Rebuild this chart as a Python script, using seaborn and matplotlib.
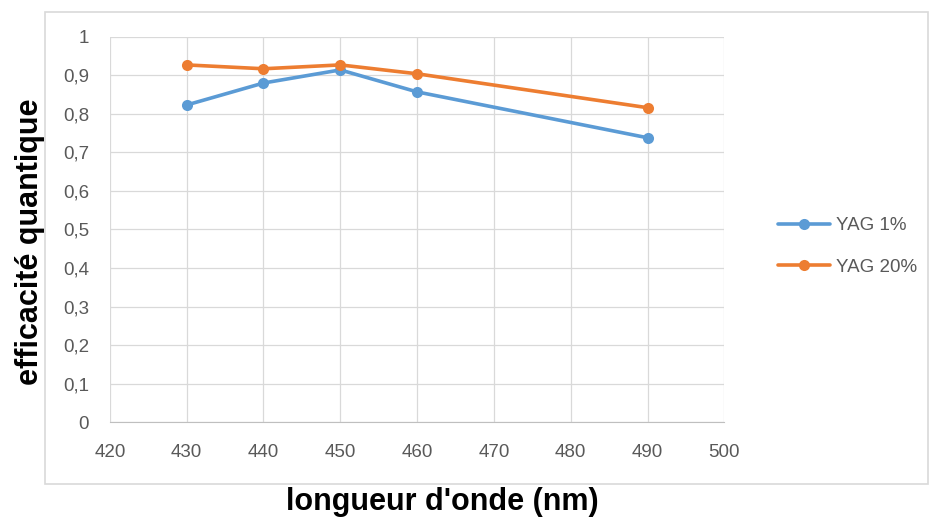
import pandas as pd
import matplotlib.pyplot as plt
import seaborn as sns
from matplotlib.patches import Rectangle
from matplotlib.ticker import FuncFormatter

wavelengths = [430, 440, 450, 460, 490]
yag_1 = [0.823, 0.880, 0.914, 0.857, 0.738]
yag_20 = [0.927, 0.917, 0.927, 0.904, 0.816]
series_names = ["YAG 1%", "YAG 20%"]

df = pd.DataFrame({
    "wavelength": wavelengths * 2,
    "value": yag_1 + yag_20,
    "series": [series_names[0]] * len(wavelengths) + [series_names[1]] * len(wavelengths),
})

sns.set_style("white")
plt.rcParams["font.family"] = ["Liberation Sans", "DejaVu Sans"]

fig = plt.figure(figsize=(9.31, 5.18), dpi=100)
ax = fig.add_axes([0.118, 0.185, 0.660, 0.744])

# chart area border like the spreadsheet frame
fig.patches.append(Rectangle((0.048, 0.066), 0.949, 0.911, transform=fig.transFigure,
                             fill=False, edgecolor="#d9d9d9", linewidth=1.2))

palette = {"YAG 1%": "#5b9bd5", "YAG 20%": "#ed7d31"}
sns.lineplot(data=df, x="wavelength", y="value", hue="series", palette=palette,
             marker="o", markersize=8, markeredgewidth=0, linewidth=2.6, ax=ax)

ax.set_xlim(420, 500)
ax.set_ylim(0, 1)
ax.set_xticks(range(420, 501, 10))
ax.set_yticks([i / 10 for i in range(11)])
ax.yaxis.set_major_formatter(FuncFormatter(lambda v, p: ("%g" % round(v, 1)).replace(".", ",")))
ax.grid(True, color="#d9d9d9", linewidth=0.9)
ax.set_axisbelow(True)
for s in ["top", "right", "left"]:
    ax.spines[s].set_visible(False)
ax.spines["bottom"].set_color("#bfbfbf")
ax.tick_params(axis="both", length=0, labelsize=13.5, labelcolor="#595959")
ax.tick_params(axis="x", pad=16)
ax.tick_params(axis="y", pad=15)

ax.set_xlabel("")
ax.set_ylabel("")
fig.text(0.475, 0.030, "longueur d'onde (nm)", ha="center", va="center",
         fontsize=22, fontweight="bold", color="black")
fig.text(0.032, 0.533, "efficacité quantique", ha="center", va="center", rotation=90,
         fontsize=22, fontweight="bold", color="black")

leg = ax.legend(loc="center left", bbox_to_anchor=(1.072, 0.456), frameon=False,
                fontsize=13.5, handlelength=2.8, handletextpad=0.3, labelspacing=1.3,
                borderpad=0)
for t in leg.get_texts():
    t.set_color("#595959")

fig.savefig("out.png", dpi=100)
